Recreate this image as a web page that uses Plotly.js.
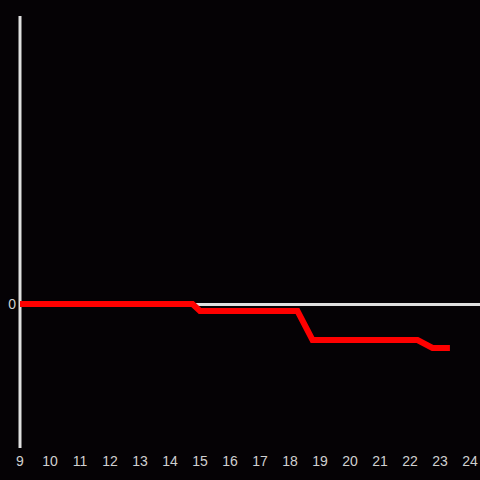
<!DOCTYPE html>
<html><head><meta charset="utf-8">
<script src="https://cdn.plot.ly/plotly-3.0.1.min.js"></script>
<style>html,body{margin:0;padding:0;background:#050205;}#chart{width:480px;height:480px;}</style>
</head><body><div id="chart"></div>
<script>
const hours = [9, 14.75, 15, 18.25, 18.75, 22.25, 22.75, 23.33];
const values = [0, 0, -7, -7, -36, -36, -44, -44];
const xTicks = [9,10,11,12,13,14,15,16,17,18,19,20,21,22,23,24];

Plotly.newPlot('chart', [{
  x: hours, y: values, type: 'scatter', mode: 'lines',
  line: {color: '#ff0000', width: 6}, hoverinfo: 'none', cliponaxis: false
}], {
  width: 480, height: 480,
  paper_bgcolor: '#050205', plot_bgcolor: '#050205',
  margin: {l: 20, r: 0, t: 16, b: 32},
  showlegend: false,
  font: {family: 'Liberation Sans, Arial, sans-serif', size: 14, color: '#d0d0d0'},
  shapes: [{type: 'line', xref: 'paper', yref: 'paper', x0: 0, x1: 0, y0: 0, y1: 1,
    line: {color: '#e0e0e0', width: 3}, layer: 'below'}],
  xaxis: {range: [9, 24.333], tickvals: xTicks, ticktext: xTicks.map(String),
    showgrid: false, zeroline: false, showline: false, ticks: '', ticklen: 0,
    ticklabelstandoff: 3},
  yaxis: {range: [-144, 288], tickvals: [0], ticktext: ['0'], showgrid: false,
    zeroline: true, zerolinecolor: '#e0e0e0', zerolinewidth: 3,
    showline: false, ticks: '', ticklen: 0, ticklabelstandoff: 3}
}, {staticPlot: true});
</script></body></html>
